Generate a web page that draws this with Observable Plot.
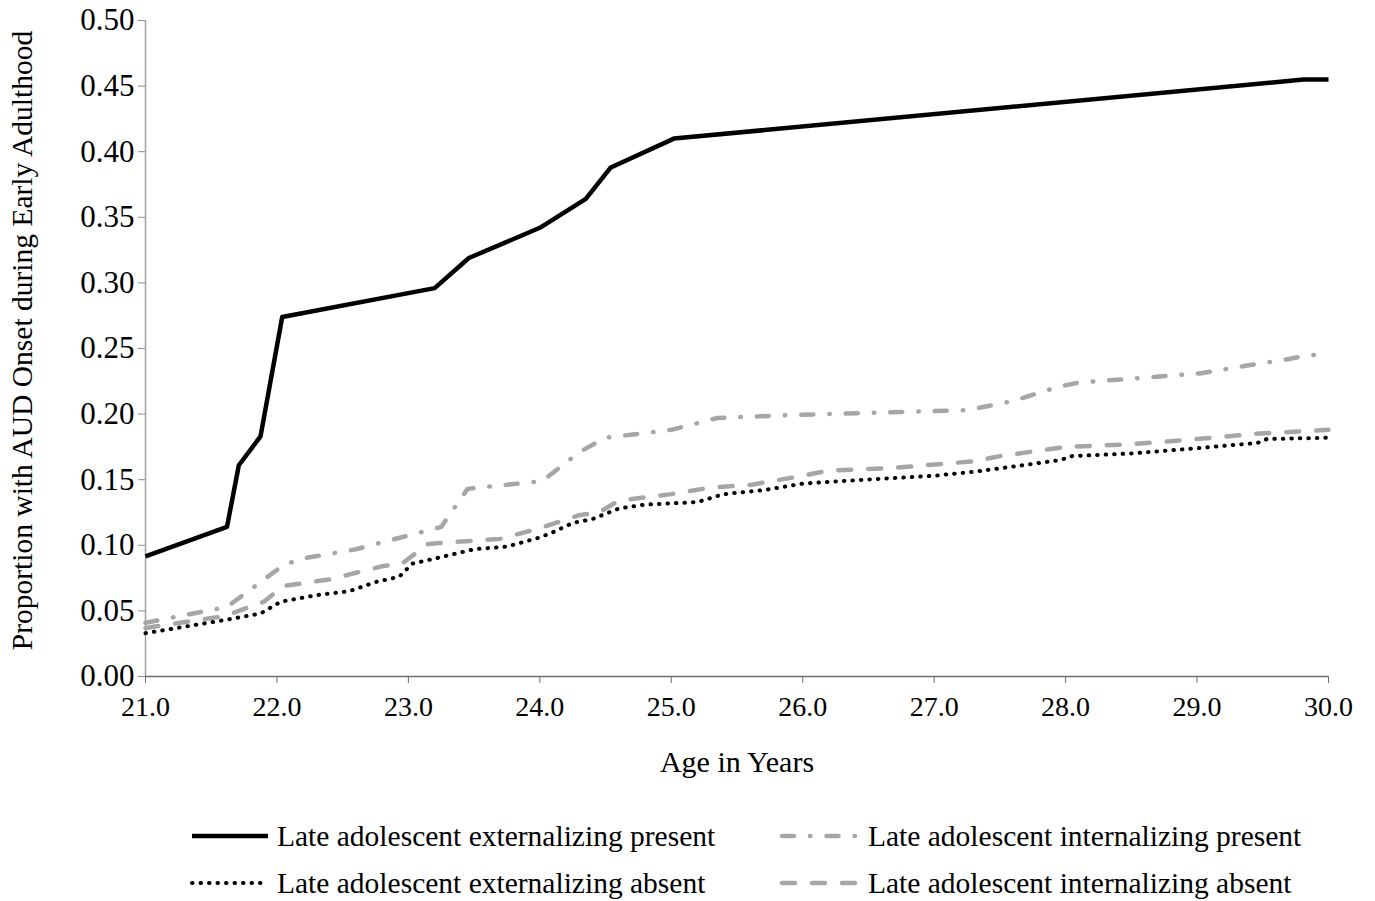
<!DOCTYPE html>
<html><head><meta charset="utf-8">
<script src="https://cdn.jsdelivr.net/npm/d3@7"></script>
<script src="https://cdn.jsdelivr.net/npm/@observablehq/plot@0.6"></script>
<style>
body{margin:0;background:#fff;font-family:"Liberation Serif","Times New Roman",serif;}
#wrap{position:relative;width:1375px;height:901px;background:#fff;}
.leg{position:absolute;font-size:29.5px;line-height:34px;color:#000;white-space:nowrap;}
.sw{position:absolute;}
</style></head><body><div id="wrap"><div id="chart"></div><div id="legend"></div></div>
<script>
// ---- data ----
const seriesNames = [
  "Late adolescent externalizing present",
  "Late adolescent internalizing present",
  "Late adolescent externalizing absent",
  "Late adolescent internalizing absent"
];
const extPresentAge = [21.0, 21.62, 21.71, 21.875, 22.04, 23.2, 23.46, 24.0, 24.35, 24.54, 25.02, 29.81, 30.0];
const extPresentVal = [0.0915, 0.114, 0.161, 0.183, 0.274, 0.296, 0.319, 0.342, 0.364, 0.388, 0.410, 0.455, 0.455];

const intPresentAge = [21.0, 21.62, 22.05, 22.2, 22.6, 23.25, 23.45, 24.02, 24.3, 24.5, 25.0, 25.35, 25.83, 27.25, 27.6, 27.95, 28.1, 29.02, 29.38, 29.7, 29.85, 30.0];
const intPresentVal = [0.041, 0.053, 0.085, 0.090, 0.097, 0.114, 0.143, 0.149, 0.171, 0.182, 0.188, 0.197, 0.199, 0.203, 0.210, 0.221, 0.224, 0.231, 0.237, 0.242, 0.245, 0.245];

const extAbsentAge = [21.0, 21.6, 21.875, 22.03, 22.3, 22.55, 22.75, 22.93, 23.03, 23.25, 23.5, 23.75, 24.0, 24.1, 24.25, 24.4, 24.6, 24.8, 25.2, 25.4, 25.7, 26.0, 26.3, 27.0, 27.3, 27.6, 27.96, 28.05, 28.5, 29.0, 29.46, 29.53, 30.0];
const extAbsentVal = [0.033, 0.043, 0.048, 0.057, 0.062, 0.065, 0.072, 0.076, 0.086, 0.091, 0.097, 0.099, 0.106, 0.110, 0.117, 0.120, 0.128, 0.131, 0.133, 0.139, 0.142, 0.147, 0.149, 0.153, 0.156, 0.160, 0.165, 0.168, 0.170, 0.174, 0.178, 0.181, 0.182];

const intAbsentAge = [21.0, 21.6, 21.9, 22.05, 22.4, 22.8, 22.95, 23.15, 23.7, 24.0, 24.3, 24.45, 24.6, 25.0, 25.3, 25.6, 26.0, 26.2, 26.7, 27.3, 27.5, 28.0, 28.5, 29.0, 29.45, 30.0];
const intAbsentVal = [0.037, 0.046, 0.057, 0.069, 0.074, 0.084, 0.086, 0.101, 0.105, 0.113, 0.123, 0.125, 0.134, 0.139, 0.144, 0.146, 0.153, 0.157, 0.159, 0.164, 0.168, 0.175, 0.177, 0.181, 0.185, 0.188];

const xTicks = [21, 22, 23, 24, 25, 26, 27, 28, 29, 30];
const yTicks = [0, 0.05, 0.1, 0.15, 0.2, 0.25, 0.3, 0.35, 0.4, 0.45, 0.5];
const xTitle = "Age in Years";
const yTitle = "Proportion with AUD Onset during Early Adulthood";

// ---- styles ----
const GRAY = "#a6a6a6";
const styles = [
  {stroke: "#000", strokeWidth: 4.5, dash: null, cap: "butt"},
  {stroke: GRAY, strokeWidth: 4.5, dash: "12 16 0.5 16", cap: "round"},
  {stroke: "#000", strokeWidth: 4, dash: "0.5 8", cap: "round"},
  {stroke: GRAY, strokeWidth: 4.5, dash: "13 17", cap: "round"}
];
const zip = (a, v) => a.map((x, i) => ({age: x, val: v[i]}));
const series = [
  zip(extPresentAge, extPresentVal),
  zip(intPresentAge, intPresentVal),
  zip(extAbsentAge, extAbsentVal),
  zip(intAbsentAge, intAbsentVal)
];
const drawOrder = [3, 1, 2, 0];

const chart = Plot.plot({
  width: 1375, height: 790,
  marginLeft: 145, marginRight: 47, marginTop: 20, marginBottom: 114,
  style: {fontFamily: "Liberation Serif, Times New Roman, serif", fontSize: "27px", color: "#000", background: "#fff", overflow: "visible"},
  x: {domain: [21, 30]},
  y: {domain: [0, 0.5]},
  marks: [
    Plot.axisY({ticks: yTicks, tickFormat: d3.format(".2f"), tickSize: 7, tickPadding: 4, stroke: "#8c8c8c", fill: "#000", label: null, fontSize: 31}),
    Plot.axisX({ticks: xTicks, tickFormat: d3.format(".1f"), tickSize: 7, tickPadding: 13, stroke: "#6e6e6e", fill: "#000", label: null, fontSize: 28}),
    Plot.ruleX([21], {stroke: "#a0a0a0", strokeWidth: 1.5}),
    Plot.ruleY([0], {stroke: "#6e6e6e", strokeWidth: 1.5}),
    ...drawOrder.map(i => Plot.line(series[i], {
      x: "age", y: "val", stroke: styles[i].stroke, strokeWidth: styles[i].strokeWidth,
      strokeDasharray: styles[i].dash, strokeLinecap: styles[i].cap, strokeLinejoin: "round"
    })),
    Plot.text([xTitle], {frameAnchor: "bottom", dy: 86, lineAnchor: "middle", fontSize: 30, fill: "#000"}),
    Plot.text([yTitle], {frameAnchor: "left", dx: -123, dy: -8, rotate: -90, textAnchor: "middle", lineAnchor: "middle", fontSize: 29.5, fill: "#000"})
  ]
});
document.getElementById("chart").appendChild(chart);

// ---- legend (below the SVG) ----
const legend = document.getElementById("legend");
const legPos = [
  {sx: 190, tx: 277, cy: 836},
  {sx: 780, tx: 868, cy: 836},
  {sx: 190, tx: 277, cy: 883},
  {sx: 780, tx: 868, cy: 883}
];
seriesNames.forEach((name, i) => {
  const p = legPos[i], s = styles[i];
  const sw = document.createElementNS("http://www.w3.org/2000/svg", "svg");
  sw.setAttribute("class", "sw");
  sw.setAttribute("width", 84); sw.setAttribute("height", 12);
  sw.style.left = (p.sx - 2) + "px"; sw.style.top = (p.cy - 6) + "px";
  const ln = document.createElementNS("http://www.w3.org/2000/svg", "line");
  ln.setAttribute("x1", 4); ln.setAttribute("x2", 80); ln.setAttribute("y1", 6); ln.setAttribute("y2", 6);
  ln.setAttribute("stroke", s.stroke); ln.setAttribute("stroke-width", s.strokeWidth);
  ln.setAttribute("stroke-linecap", s.cap);
  if (s.dash) ln.setAttribute("stroke-dasharray", s.dash);
  sw.appendChild(ln);
  legend.appendChild(sw);
  const t = document.createElement("div");
  t.className = "leg"; t.textContent = name;
  t.style.left = p.tx + "px"; t.style.top = (p.cy - 17) + "px";
  legend.appendChild(t);
});
</script>
</body></html>
